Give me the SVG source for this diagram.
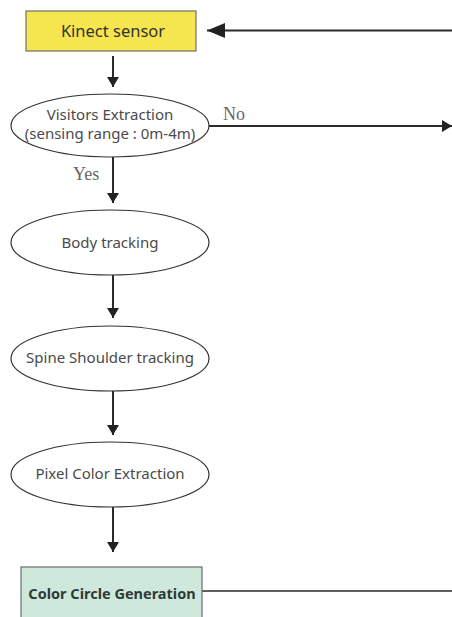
<svg xmlns="http://www.w3.org/2000/svg" width="452" height="617" viewBox="0 0 452 617">
  <defs>
    <marker id="ah" markerUnits="userSpaceOnUse" markerWidth="14" markerHeight="12" refX="10" refY="6" orient="auto">
      <path d="M0,0 L10,6 L0,12 Z" fill="#222"/>
    </marker>
    <marker id="ahBig" markerUnits="userSpaceOnUse" markerWidth="20" markerHeight="16" refX="18" refY="7.5" orient="auto">
      <path d="M0,0 L18,7.5 L0,15 Z" fill="#222"/>
    </marker>
    <style>
      .node-t { font-family: "Noto Sans", "DejaVu Sans", sans-serif; font-size: 15px; fill: #4a4a4a; text-anchor: middle; }
      .lbl { font-family: "Liberation Serif", "DejaVu Serif", serif; font-size: 18px; fill: #666; }
      .ell { fill: #ffffff; stroke: #333; stroke-width: 1.2; }
      .conn { stroke: #2a2a2a; stroke-width: 2; fill: none; }
    </style>
  </defs>
  <rect width="452" height="617" fill="#ffffff"/>

  <g id="connectors">
    <line class="conn" x1="452" y1="30.5" x2="207" y2="30.5" marker-end="url(#ahBig)"/>
    <line class="conn" x1="113" y1="56" x2="113" y2="87" marker-end="url(#ah)"/>
    <line class="conn" x1="209" y1="126" x2="452" y2="126" marker-end="url(#ah)"/>
    <line class="conn" x1="113" y1="157" x2="113" y2="203" marker-end="url(#ah)"/>
    <line class="conn" x1="113" y1="275" x2="113" y2="318" marker-end="url(#ah)"/>
    <line class="conn" x1="113" y1="391" x2="113" y2="435" marker-end="url(#ah)"/>
    <line class="conn" x1="113" y1="507" x2="113" y2="552" marker-end="url(#ah)"/>
    <line x1="202" y1="591" x2="452" y2="591" stroke="#2a2a2a" stroke-width="1.5"/>
    <text class="lbl" x="223" y="120">No</text>
    <text class="lbl" x="73" y="180">Yes</text>
  </g>

  <g id="kinect">
    <rect x="26" y="11" width="170" height="40" fill="#f5e64f" stroke="#6e6e6e" stroke-width="1.2"/>
    <text class="node-t" x="113" y="37" style="font-size:16.5px;fill:#333">Kinect sensor</text>
  </g>

  <g id="visitors">
    <ellipse class="ell" cx="110" cy="125.5" rx="99" ry="31.5"/>
    <text class="node-t" x="110" y="120">Visitors Extraction</text>
    <text class="node-t" x="110" y="139">(sensing range : 0m-4m)</text>
  </g>

  <g id="body">
    <ellipse class="ell" cx="110" cy="242.5" rx="99" ry="32.5"/>
    <text class="node-t" x="110" y="248">Body tracking</text>
  </g>

  <g id="spine">
    <ellipse class="ell" cx="110" cy="358.5" rx="99" ry="32.5"/>
    <text class="node-t" x="110" y="363">Spine Shoulder tracking</text>
  </g>

  <g id="pixel">
    <ellipse class="ell" cx="110" cy="474.5" rx="99" ry="32.5"/>
    <text class="node-t" x="110" y="479">Pixel Color Extraction</text>
  </g>

  <g id="color">
    <rect x="21" y="567" width="181" height="60" fill="#cfe8dc" stroke="#6e6e6e" stroke-width="1.2"/>
    <text class="node-t" x="112" y="599" style="font-weight:bold;font-size:14.5px;fill:#2f3a35">Color Circle Generation</text>
  </g>
</svg>
